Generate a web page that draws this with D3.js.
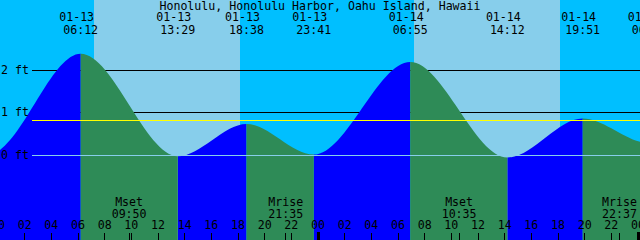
<!DOCTYPE html>
<html>
<head>
<meta charset="utf-8">
<script src="https://cdn.jsdelivr.net/npm/d3@7"></script>
<style>
  body { margin: 0; background: #fff; }
  svg { display: block; }
  text { font-family: "DejaVu Sans Mono", monospace; font-size: 11.6px; fill: #000; }
</style>
</head>
<body>
<div id="chart"></div>
<script>
const width = 640, height = 240;

const title = "Honolulu, Honolulu Harbor, Oahu Island, Hawaii";

// tide extremes (first and last lie outside the window, estimated)
const tideTimes = ["01-12 17:48", "01-12 23:18", "01-13 06:12", "01-13 13:29", "01-13 18:38",
                   "01-13 23:41", "01-14 06:55", "01-14 14:12", "01-14 19:51", "01-15 00:50", "01-15 07:36"];
const tideHeights = [0.75, 0.03, 2.39, -0.02, 0.74, 0.02, 2.20, -0.05, 0.87, 0.29, 2.0];

const moonEvents = ["Mset", "Mrise", "Mset", "Mrise"];
const moonTimes = ["01-13 09:50", "01-13 21:35", "01-14 10:35", "01-14 22:37"];

const sunrises = ["01-13 07:12", "01-14 07:12"];
const sunsets = ["01-13 18:09", "01-14 18:10"];

const heightTicks = [0, 1, 2];
const heightLabels = ["0 ft", "1 ft", "2 ft"];
const meanLevel = 0.82;

const windowStart = "01-13 00:09", windowEnd = "01-15 00:09";

const parse = d3.utcParse("%m-%d %H:%M");
const fmtDate = d3.utcFormat("%m-%d"), fmtTime = d3.utcFormat("%H:%M"), fmtHour = d3.utcFormat("%H");

const tides = tideTimes.map((t, i) => ({ t: parse(t), h: tideHeights[i] }));

const x = d3.scaleUtc()
  .domain([parse(windowStart), parse(windowEnd)])
  .range([0, width]);

const y = d3.scaleLinear()
  .domain([0, 2])
  .range([155.4, 70.4]);

const crisp = v => Math.floor(v) + 0.5;

const svg = d3.select("#chart").append("svg")
  .attr("width", width)
  .attr("height", height);

// night background, daylight bands
svg.append("rect")
  .attr("width", width).attr("height", height)
  .attr("fill", "#00bfff");

svg.selectAll(".day")
  .data(sunrises.map((s, i) => [parse(s), parse(sunsets[i])]))
  .join("rect")
  .attr("class", "day")
  .attr("x", d => Math.round(x(d[0])))
  .attr("width", d => Math.round(x(d[1])) - Math.round(x(d[0])))
  .attr("y", 0).attr("height", height)
  .attr("fill", "#87ceeb");

// black reference lines behind the water
svg.selectAll(".grid")
  .data(heightTicks.filter(d => d !== 0))
  .join("line")
  .attr("x1", 32).attr("x2", width)
  .attr("y1", d => crisp(y(d))).attr("y2", d => crisp(y(d)))
  .attr("stroke", "#000");

// tide fill, blue while rising, green while falling
const area = d3.area()
  .x(d => x(d.t))
  .y0(height)
  .y1(d => y(d.h))
  .curve(d3.curveMonotoneX);

const segs = d3.pairs(tides).map(([a, b]) => ({ a, b, rising: b.h > a.h }));
const defs = svg.append("defs");
["rise", "fall"].forEach(k => {
  defs.append("clipPath").attr("id", "clip-" + k)
    .selectAll("rect")
    .data(segs.filter(s => s.rising === (k === "rise")))
    .join("rect")
    .attr("x", s => x(s.a.t))
    .attr("width", s => x(s.b.t) - x(s.a.t))
    .attr("y", 0).attr("height", height);
});

svg.append("path").datum(tides)
  .attr("d", area)
  .attr("fill", "#0000ff")
  .attr("clip-path", "url(#clip-rise)");

svg.append("path").datum(tides)
  .attr("d", area)
  .attr("fill", "#2e8b57")
  .attr("clip-path", "url(#clip-fall)");

// mean level and datum lines on top
svg.append("line")
  .attr("x1", 32).attr("x2", width)
  .attr("y1", crisp(y(meanLevel))).attr("y2", crisp(y(meanLevel)))
  .attr("stroke", "#ffff00");

svg.append("line")
  .attr("x1", 32).attr("x2", width)
  .attr("y1", crisp(y(0))).attr("y2", crisp(y(0)))
  .attr("stroke", "#87ceeb");

// height labels
svg.selectAll(".ylab")
  .data(heightTicks)
  .join("text")
  .attr("x", 1)
  .attr("y", d => Math.floor(y(d)) + 4)
  .text((d, i) => heightLabels[i]);

// title
svg.append("text")
  .attr("x", width / 2).attr("y", 10)
  .attr("text-anchor", "middle")
  .text(title);

// tide event labels along the top
const shown = tides.filter(d => d.t >= x.domain()[0] && x(d.t) < width + 20);
const topLabels = svg.append("g").attr("text-anchor", "middle");
topLabels.selectAll(".tdate").data(shown).join("text")
  .attr("x", d => x(d.t) - 4).attr("y", 21)
  .text(d => fmtDate(d.t));
topLabels.selectAll(".ttime").data(shown).join("text")
  .attr("x", d => x(d.t)).attr("y", 34)
  .text(d => fmtTime(d.t));

// moon events
const moon = moonTimes.map((t, i) => ({ t: parse(t), name: moonEvents[i] }));
const bottomLabels = svg.append("g").attr("text-anchor", "middle");
bottomLabels.selectAll(".mname").data(moon).join("text")
  .attr("x", d => x(d.t)).attr("y", 206)
  .text(d => d.name);
bottomLabels.selectAll(".mtime").data(moon).join("text")
  .attr("x", d => x(d.t)).attr("y", 218)
  .text(d => fmtTime(d.t));

svg.selectAll(".mtick").data(moon).join("line")
  .attr("x1", d => crisp(x(d.t))).attr("x2", d => crisp(x(d.t)))
  .attr("y1", 233).attr("y2", height)
  .attr("stroke", "#000");

// hour axis, from the midnight just before the window
const hours = d3.utcHour.every(2).range(d3.utcDay.floor(x.domain()[0]), x.domain()[1]);
bottomLabels.selectAll(".hour").data(hours).join("text")
  .attr("x", d => x(d)).attr("y", 229)
  .text(d => fmtHour(d));

svg.selectAll(".htick").data(hours.filter(d => d.getUTCHours() !== 0)).join("line")
  .attr("x1", d => crisp(x(d))).attr("x2", d => crisp(x(d)))
  .attr("y1", 233).attr("y2", height)
  .attr("stroke", "#000");

svg.selectAll(".midnight").data(hours.filter(d => d.getUTCHours() === 0)).join("rect")
  .attr("x", d => Math.floor(x(d)) - 1)
  .attr("width", 3)
  .attr("y", 232).attr("height", height - 232)
  .attr("fill", "#000");
</script>
</body>
</html>
